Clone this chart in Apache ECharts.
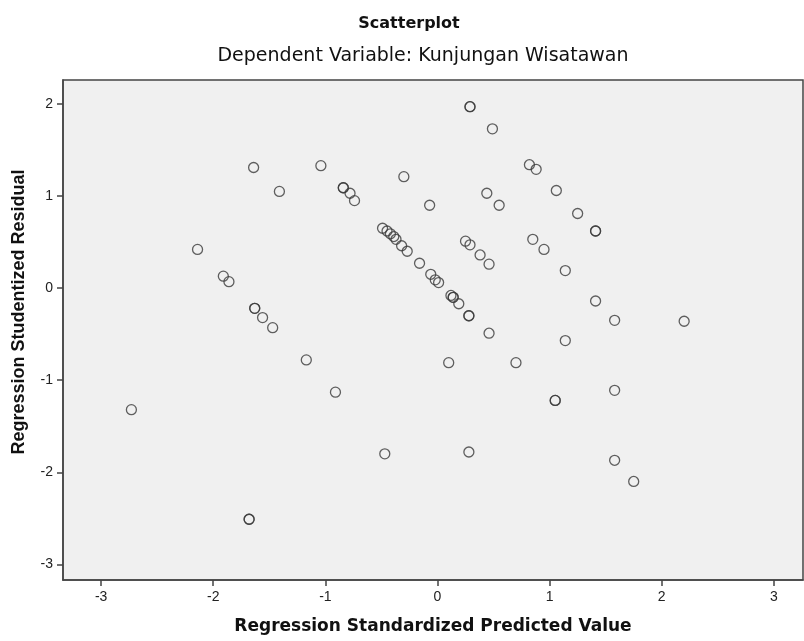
<!DOCTYPE html>
<html>
<head>
<meta charset="utf-8">
<script src="https://cdn.jsdelivr.net/npm/echarts@6/dist/echarts.min.js"></script>
<style>
    html, body { margin: 0; background: #fff; }
    #chart { width: 804px; height: 641px; }
</style>
</head>
<body>
<div id="chart"></div>
<script>
// Regression Standardized Predicted Value (x) / Studentized Residual (y)
// repeated pairs are cases that sit on top of each other (darker rings)
const predicted = [
    0.29, 0.29, 0.49, 0.82, 0.88, -0.30, 1.06, 0.44, -0.07, 0.55,
    1.25, -0.74, -0.49, -0.45, -0.42, -0.39, -0.37, -0.32, -0.27, -0.16,
    0.25, 0.29, 0.38, 0.46, -0.06, -0.02, 0.01, 0.12, 0.14, 0.14,
    0.19, 0.28, 0.28, -2.14, -1.91, -1.86, -1.63, -1.63, -1.56, -1.47,
    -1.17, 1.41, 1.41, 0.85, 0.95, 1.14, 1.41, 1.58, 2.20, 1.14,
    0.46, 0.10, 0.70, 1.05, 1.05, 1.58, 0.28, 1.58, 1.75, -0.91,
    -0.47, -1.68, -1.68, -2.73, -1.64, -1.41, -1.04, -0.84, -0.84, -0.78
];
const residual = [
    1.97, 1.97, 1.73, 1.34, 1.29, 1.21, 1.06, 1.03, 0.90, 0.90,
    0.81, 0.95, 0.65, 0.62, 0.59, 0.56, 0.53, 0.46, 0.40, 0.27,
    0.51, 0.47, 0.36, 0.26, 0.15, 0.09, 0.06, -0.08, -0.10, -0.10,
    -0.17, -0.30, -0.30, 0.42, 0.13, 0.07, -0.22, -0.22, -0.32, -0.43,
    -0.78, 0.62, 0.62, 0.53, 0.42, 0.19, -0.14, -0.35, -0.36, -0.57,
    -0.49, -0.81, -0.81, -1.22, -1.22, -1.11, -1.78, -1.87, -2.10, -1.13,
    -1.80, -2.51, -2.51, -1.32, 1.31, 1.05, 1.33, 1.09, 1.09, 1.03
];
const xTicks = [-3, -2, -1, 0, 1, 2, 3];
const yTicks = [-3, -2, -1, 0, 1, 2];

const font = '"Liberation Sans", Arial, sans-serif';
const wide = '"DejaVu Sans", sans-serif';
const frame = '#444';

let myChart = echarts.init(document.getElementById('chart'));
myChart.setOption({
    animation: false,
    backgroundColor: '#fff',
    textStyle: { fontFamily: font },
    title: [{
        text: 'Scatterplot',
        left: 404,
        top: 11,
        textAlign: 'center',
        textStyle: { fontFamily: wide, fontSize: 16, fontWeight: 'bold', color: '#111' }
    }, {
        text: 'Dependent Variable: Kunjungan Wisatawan',
        left: 418,
        top: 42,
        textAlign: 'center',
        textStyle: { fontFamily: wide, fontSize: 19, fontWeight: 'normal', color: '#111' }
    }],
    graphic: [{
        type: 'text',
        x: 19,
        y: 312,
        rotation: Math.PI / 2,
        style: {
            text: 'Regression Studentized Residual',
            font: 'bold 18px "Liberation Sans", Arial, sans-serif',
            align: 'center',
            verticalAlign: 'middle',
            fill: '#111'
        }
    }],
    grid: {
        left: 63,
        top: 80,
        right: 1,
        bottom: 61,
        show: true,
        backgroundColor: '#f0f0f0',
        borderColor: frame,
        borderWidth: 1.5
    },
    xAxis: {
        type: 'value',
        min: -3.34,
        max: 3.26,
        name: 'Regression Standardized Predicted Value',
        nameLocation: 'middle',
        nameGap: 38,
        nameTextStyle: { fontFamily: wide, fontSize: 17, fontWeight: 'bold', color: '#111' },
        axisLine: { show: true, onZero: false, lineStyle: { color: frame, width: 1.5 } },
        axisTick: { show: true, length: 6, customValues: xTicks, lineStyle: { color: frame, width: 1.5 } },
        axisLabel: { customValues: xTicks, margin: 10, fontSize: 14, color: '#222', fontFamily: font },
        splitLine: { show: false }
    },
    yAxis: {
        type: 'value',
        min: -3.17,
        max: 2.26,
        axisLine: { show: true, onZero: false, lineStyle: { color: frame, width: 1.5 } },
        axisTick: { show: true, length: 6, customValues: yTicks, lineStyle: { color: frame, width: 1.5 } },
        axisLabel: { customValues: yTicks, margin: 10, fontSize: 14, color: '#222', fontFamily: font },
        splitLine: { show: false }
    },
    series: [{
        type: 'scatter',
        data: predicted.map((x, i) => [x, residual[i]]),
        symbol: 'circle',
        symbolSize: 10,
        itemStyle: { color: 'rgba(0,0,0,0)', borderColor: '#3a3a3a', borderWidth: 1.3 },
        emphasis: { disabled: true }
    }]
});
</script>
</body>
</html>
